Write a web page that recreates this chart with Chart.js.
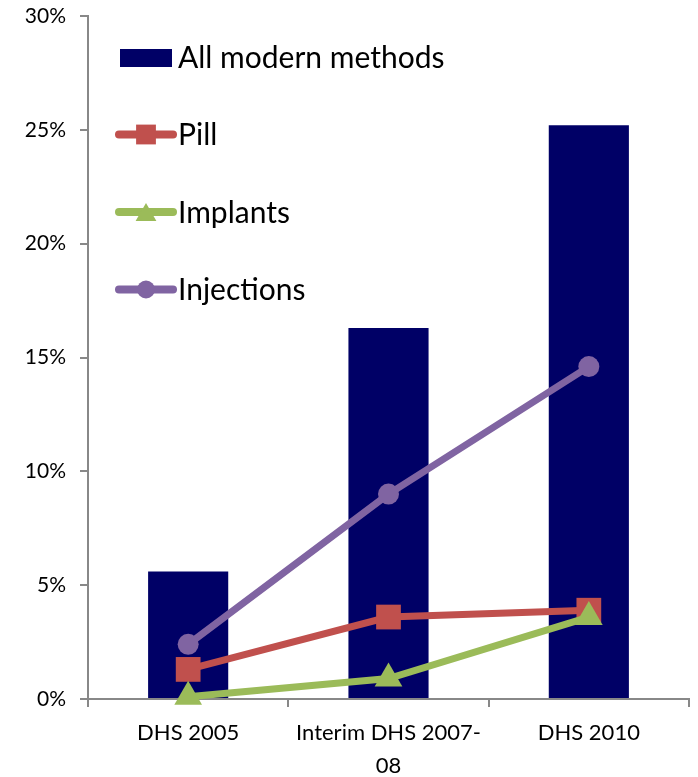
<!DOCTYPE html>
<html>
<head>
<meta charset="utf-8">
<script src="https://cdn.jsdelivr.net/npm/chart.js@4.4.0/dist/chart.umd.min.js"></script>
<style>
  html, body { margin: 0; padding: 0; background: #fff; }
  #wrap { width: 698px; height: 777px; position: relative; }
</style>
</head>
<body>
<div id="wrap"><canvas id="chart"></canvas></div>
<script>
// survey rounds
const surveys = ['DHS 2005', ['Interim DHS 2007-', '08'], 'DHS 2010'];

// percent of women using each method
const allModern = [5.6, 16.3, 25.2];
const pill = [1.3, 3.6, 3.9];
const implants = [0.1, 0.9, 3.6];
const injections = [2.4, 9.0, 14.6];

const yTicks = [0, 5, 10, 15, 20, 25, 30];

const FONT = 'Lato, "Open Sans", sans-serif';

// legend drawn inside the plot, top left
const insideLegend = {
  id: 'insideLegend',
  afterDraw(chart) {
    const ctx = chart.ctx;
    const ds = chart.data.datasets;
    const legendSizes = [0, 14, 12, 9];
    const x0 = 119, x1 = 173;
    ctx.save();
    ctx.font = '30px ' + FONT;
    ctx.textBaseline = 'middle';
    ds.forEach((d, n) => {
      const y = 57 + n * 77.5;
      if (d.type === 'bar') {
        ctx.fillStyle = d.backgroundColor;
        ctx.fillRect(120, y - 8, 52, 18);
      } else {
        ctx.strokeStyle = d.borderColor;
        ctx.lineWidth = 8;
        ctx.lineCap = 'round';
        ctx.beginPath();
        ctx.moveTo(x0, y);
        ctx.lineTo(x1, y);
        ctx.stroke();
        ctx.fillStyle = d.pointBackgroundColor;
        ctx.strokeStyle = d.pointBackgroundColor;
        Chart.helpers.drawPoint(ctx, {
          pointStyle: d.pointStyle,
          radius: legendSizes[n],
          rotation: 0,
          borderWidth: 0
        }, (x0 + x1) / 2, d.pointStyle === 'triangle' ? y + 3 : y);
      }
      ctx.fillStyle = '#000';
      ctx.fillText(d.label, 178, y + 1);
    });
    ctx.restore();
  }
};

new Chart(document.getElementById('chart'), {
  data: {
    labels: surveys,
    datasets: [
      {
        type: 'bar',
        label: 'All modern methods',
        data: allModern,
        backgroundColor: '#000066',
        categoryPercentage: 1,
        barPercentage: 0.4,
        order: 10
      },
      {
        type: 'line',
        label: 'Pill',
        data: pill,
        borderColor: '#C0504D',
        backgroundColor: '#C0504D',
        pointBackgroundColor: '#C0504D',
        pointBorderColor: '#C0504D',
        borderWidth: 7,
        pointStyle: 'rect',
        pointRadius: 17.5,
        pointBorderWidth: 0,
        clip: false,
        order: 2
      },
      {
        type: 'line',
        label: 'Implants',
        data: implants,
        borderColor: '#9BBB59',
        backgroundColor: '#9BBB59',
        pointBackgroundColor: '#9BBB59',
        pointBorderColor: '#9BBB59',
        borderWidth: 7,
        pointStyle: 'triangle',
        pointRadius: 16,
        pointBorderWidth: 0,
        clip: false,
        order: 1
      },
      {
        type: 'line',
        label: 'Injections',
        data: injections,
        borderColor: '#8064A2',
        backgroundColor: '#8064A2',
        pointBackgroundColor: '#8064A2',
        pointBorderColor: '#8064A2',
        borderWidth: 7,
        pointStyle: 'circle',
        pointRadius: 10.5,
        pointBorderWidth: 0,
        clip: false,
        order: 3
      }
    ]
  },
  options: {
    responsive: true,
    maintainAspectRatio: false,
    animation: false,
    layout: {
      autoPadding: false,
      padding: { top: 16, right: 9, left: 0, bottom: 0 }
    },
    plugins: {
      legend: { display: false },
      tooltip: { enabled: false }
    },
    scales: {
      x: {
        offset: true,
        grid: {
          display: true,
          drawOnChartArea: false,
          drawTicks: true,
          tickLength: 8,
          offset: true,
          color: '#888888',
          lineWidth: 2
        },
        border: { color: '#888888', width: 2 },
        ticks: {
          color: '#000',
          font: { family: FONT, size: 22, lineHeight: 1.5 },
          padding: 9,
          maxRotation: 0,
          autoSkip: false
        },
        afterFit(scale) {
          scale.height = 78;
          scale.paddingLeft = 0;
          scale.paddingRight = 0;
        }
      },
      y: {
        min: 0,
        max: 30,
        afterBuildTicks(scale) { scale.ticks = yTicks.map(v => ({ value: v })); },
        grid: {
          display: true,
          drawOnChartArea: false,
          drawTicks: true,
          tickLength: 8,
          color: '#888888',
          lineWidth: 2
        },
        border: { color: '#888888', width: 2 },
        ticks: {
          color: '#000',
          font: { family: FONT, size: 21 },
          padding: 14,
          callback: v => v + '%'
        },
        afterFit(scale) {
          scale.width = 88;
          scale.paddingTop = 0;
          scale.paddingBottom = 0;
        }
      }
    }
  },
  plugins: [insideLegend]
});
</script>
</body>
</html>
